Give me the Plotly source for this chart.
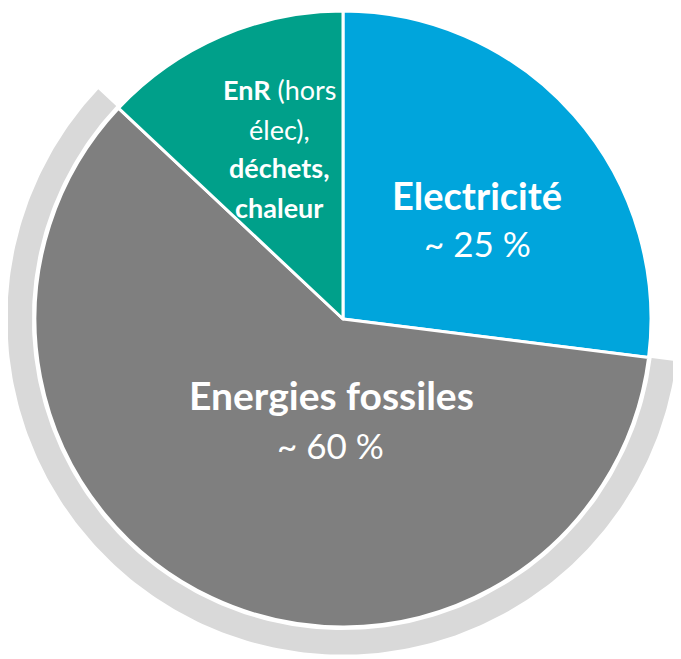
import numpy as np
import plotly.graph_objects as go

# ---- data ----
labels = ["Electricité", "Energies fossiles", "EnR (hors élec), déchets, chaleur"]
values = [27, 60, 13]
share_text = ["~ 25 %", "~ 60 %", ""]
enr_lines = ["<b>EnR</b> (hors", "élec),", "<b>déchets,</b>", "<b>chaleur</b>"]
colors = ["#00A5DC", "#7F7F7F", "#00A08A"]
ring_color = "#D9D9D9"
highlight = "Energies fossiles"

W, H = 681, 659
OFF = 8                      # page body margin
cx, cy, R = 343, 319, 308    # pie centre / radius in page pixels

def px(x):
    return (x - OFF) / W

def py(y):
    return 1 - (y - OFF) / H

dom_x = [px(cx - R), px(cx + R)]
dom_y = [py(cy + R), py(cy - R)]

fig = go.Figure()

# background ring around the highlighted slice, following the pie's angles
total = sum(values)
idx = labels.index(highlight)
a0 = np.deg2rad(sum(values[:idx]) / total * 360)
a1 = np.deg2rad(sum(values[:idx + 1]) / total * 360)
ring_in, ring_out = 1.01, 1.09   # relative to pie radius
t = np.linspace(a0, a1, 240)
rx = np.concatenate([ring_out * np.sin(t), ring_in * np.sin(t[::-1])])
ry = np.concatenate([ring_out * np.cos(t), ring_in * np.cos(t[::-1])])
fig.add_trace(go.Scatter(
    x=rx, y=ry, fill="toself", mode="lines", line=dict(width=0, color=ring_color),
    fillcolor=ring_color, hoverinfo="skip", showlegend=False,
))

fig.add_trace(go.Pie(
    labels=labels, values=values, sort=False, direction="clockwise", rotation=0,
    marker=dict(colors=colors, line=dict(color="white", width=3)),
    textinfo="none", hoverinfo="none", showlegend=False,
    domain=dict(x=dom_x, y=dom_y),
))

fcx, fcy = cx - OFF, cy - OFF
fig.update_layout(
    width=W, height=H,
    margin=dict(l=0, r=0, t=0, b=0),
    paper_bgcolor="white", plot_bgcolor="white",
    showlegend=False,
    xaxis=dict(visible=False, range=[-fcx / R, (W - fcx) / R], domain=[0, 1]),
    yaxis=dict(visible=False, range=[-(H - fcy) / R, fcy / R], domain=[0, 1]),
)

font_family = "Lato, Carlito, Calibri, sans-serif"

def ann(text, x, y, size):
    fig.add_annotation(text=text, x=px(x), y=py(y), xref="paper", yref="paper",
                       xanchor="center", yanchor="middle", showarrow=False,
                       font=dict(family=font_family, size=size, color="white"))

ann("<b>" + labels[0] + "</b>", 477, 195, 38)
ann(share_text[0], 477, 243, 35)
ann("<b>" + labels[1] + "</b>", 331, 395, 39)
ann(share_text[1], 330, 445, 35)
for line, yy in zip(enr_lines, [90, 129, 168, 207]):
    ann(line, 279, yy, 27)

fig.write_html("out.html")
